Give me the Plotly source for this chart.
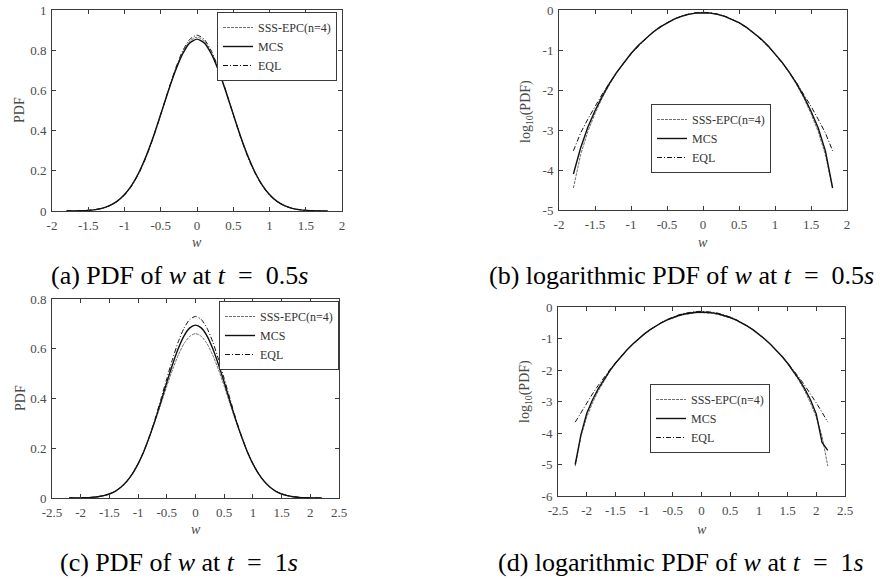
import plotly.graph_objects as go

# ---------------- data ----------------
w_05 = [-1.8, -1.7, -1.6, -1.5, -1.4, -1.3, -1.2, -1.1, -1.0, -0.9, -0.8, -0.7, -0.6, -0.5, -0.4, -0.3, -0.2, -0.1,
        0.0, 0.1, 0.2, 0.3, 0.4, 0.5, 0.6, 0.7, 0.8, 0.9, 1.0, 1.1, 1.2, 1.3, 1.4, 1.5, 1.6, 1.7, 1.8]

pdf05_sss = [0.00004, 0.0002, 0.0009, 0.0026, 0.0063, 0.014, 0.027, 0.048, 0.081, 0.128, 0.192, 0.274, 0.372, 0.482, 0.594, 0.700, 0.787, 0.845,
             0.865, 0.845, 0.787, 0.700, 0.594, 0.482, 0.372, 0.274, 0.192, 0.128, 0.081, 0.048, 0.027, 0.014, 0.0063, 0.0026, 0.0009, 0.0002, 0.00004]
pdf05_mcs = [0.0001, 0.0004, 0.0012, 0.003, 0.0069, 0.014, 0.028, 0.049, 0.082, 0.129, 0.193, 0.275, 0.372, 0.481, 0.592, 0.695, 0.780, 0.836,
             0.855, 0.836, 0.780, 0.695, 0.592, 0.481, 0.372, 0.275, 0.193, 0.129, 0.082, 0.049, 0.028, 0.014, 0.0069, 0.003, 0.0012, 0.0004, 0.0001]
pdf05_eql = [0.00036, 0.00084, 0.0019, 0.0039, 0.0079, 0.015, 0.027, 0.048, 0.079, 0.125, 0.188, 0.269, 0.368, 0.480, 0.596, 0.705, 0.795, 0.854,
             0.875, 0.854, 0.795, 0.705, 0.596, 0.480, 0.368, 0.269, 0.188, 0.125, 0.079, 0.048, 0.027, 0.015, 0.0079, 0.0039, 0.0019, 0.00084, 0.00036]

log05_sss = [-4.45, -3.62, -3.04, -2.59, -2.20, -1.865, -1.575, -1.32, -1.093, -0.893, -0.716, -0.562, -0.429, -0.317, -0.226, -0.155, -0.104, -0.073,
             -0.063, -0.073, -0.104, -0.155, -0.226, -0.317, -0.429, -0.562, -0.716, -0.893, -1.093, -1.32, -1.575, -1.865, -2.20, -2.59, -3.04, -3.62, -4.45]
log05_mcs = [-4.10, -3.45, -2.93, -2.52, -2.16, -1.84, -1.56, -1.31, -1.087, -0.889, -0.714, -0.561, -0.429, -0.318, -0.228, -0.158, -0.108, -0.078,
             -0.068, -0.078, -0.108, -0.158, -0.228, -0.318, -0.429, -0.561, -0.714, -0.889, -1.087, -1.31, -1.56, -1.84, -2.16, -2.53, -2.95, -3.52, -4.45]
log05_eql = [-3.52, -3.075, -2.731, -2.407, -2.104, -1.822, -1.561, -1.321, -1.102, -0.904, -0.726, -0.570, -0.434, -0.319, -0.225, -0.152, -0.100, -0.068,
             -0.058, -0.068, -0.100, -0.152, -0.225, -0.319, -0.434, -0.570, -0.726, -0.904, -1.102, -1.321, -1.561, -1.822, -2.104, -2.407, -2.731, -3.075, -3.52]

w_1 = [-2.2, -2.1, -2.0, -1.9, -1.8, -1.7, -1.6, -1.5, -1.4, -1.3, -1.2, -1.1, -1.0, -0.9, -0.8, -0.7, -0.6, -0.5, -0.4, -0.3, -0.2, -0.1,
       0.0, 0.1, 0.2, 0.3, 0.4, 0.5, 0.6, 0.7, 0.8, 0.9, 1.0, 1.1, 1.2, 1.3, 1.4, 1.5, 1.6, 1.7, 1.8, 1.9, 2.0, 2.1, 2.2]

pdf1_sss = [0.00001, 0.0001, 0.0003, 0.0009, 0.0021, 0.0046, 0.0089, 0.016, 0.027, 0.044, 0.067, 0.099, 0.139, 0.189, 0.247, 0.311, 0.380, 0.450, 0.516, 0.575, 0.621, 0.650,
            0.661, 0.650, 0.621, 0.575, 0.516, 0.450, 0.380, 0.311, 0.247, 0.189, 0.139, 0.099, 0.067, 0.044, 0.027, 0.016, 0.0089, 0.0046, 0.0021, 0.0009, 0.0003, 0.0001, 0.00001]
pdf1_mcs = [0.00001, 0.0001, 0.0004, 0.0011, 0.0025, 0.0050, 0.0093, 0.016, 0.027, 0.043, 0.066, 0.097, 0.137, 0.187, 0.248, 0.315, 0.389, 0.465, 0.537, 0.601, 0.652, 0.684,
            0.695, 0.684, 0.652, 0.601, 0.537, 0.465, 0.389, 0.315, 0.248, 0.187, 0.137, 0.097, 0.066, 0.043, 0.027, 0.016, 0.0093, 0.0050, 0.0025, 0.0011, 0.0004, 0.0001, 0.00003]
pdf1_eql = [0.0002, 0.0004, 0.0009, 0.0017, 0.0032, 0.0058, 0.0100, 0.0169, 0.0274, 0.0431, 0.0655, 0.0963, 0.137, 0.188, 0.250, 0.321, 0.400, 0.480, 0.558, 0.628, 0.683, 0.718,
            0.730, 0.718, 0.683, 0.628, 0.558, 0.480, 0.400, 0.321, 0.250, 0.188, 0.137, 0.0963, 0.0655, 0.0431, 0.0274, 0.0169, 0.0100, 0.0058, 0.0032, 0.0017, 0.0009, 0.0004, 0.0002]

log1_sss = [-5.05, -4.10, -3.50, -3.05, -2.67, -2.34, -2.05, -1.795, -1.565, -1.358, -1.172, -1.005, -0.856, -0.724, -0.608, -0.507, -0.420, -0.347, -0.287, -0.240, -0.207, -0.187,
            -0.180, -0.187, -0.207, -0.240, -0.287, -0.347, -0.420, -0.507, -0.608, -0.724, -0.856, -1.005, -1.172, -1.358, -1.565, -1.795, -2.05, -2.34, -2.67, -3.05, -3.50, -4.10, -5.05]
log1_mcs = [-5.0, -4.05, -3.38, -2.95, -2.60, -2.30, -2.03, -1.787, -1.566, -1.364, -1.180, -1.013, -0.862, -0.727, -0.606, -0.501, -0.410, -0.333, -0.270, -0.221, -0.186, -0.165,
            -0.158, -0.165, -0.186, -0.221, -0.270, -0.333, -0.410, -0.501, -0.606, -0.727, -0.862, -1.013, -1.180, -1.364, -1.566, -1.787, -2.03, -2.30, -2.60, -2.95, -3.40, -4.30, -4.55]
log1_eql = [-3.656, -3.343, -3.045, -2.761, -2.492, -2.238, -1.998, -1.773, -1.562, -1.366, -1.184, -1.017, -0.864, -0.726, -0.602, -0.493, -0.399, -0.319, -0.253, -0.202, -0.166, -0.144,
            -0.137, -0.144, -0.166, -0.202, -0.253, -0.319, -0.399, -0.493, -0.602, -0.726, -0.864, -1.017, -1.184, -1.366, -1.562, -1.773, -1.998, -2.238, -2.492, -2.761, -3.045, -3.343, -3.656]

series_names = ["SSS-EPC(n=4)", "MCS", "EQL"]

xt_2 = [-2, -1.5, -1, -0.5, 0, 0.5, 1, 1.5, 2]
xt_2_lbl = ["-2", "-1.5", "-1", "-0.5", "0", "0.5", "1", "1.5", "2"]
xt_25 = [-2.5, -2, -1.5, -1, -0.5, 0, 0.5, 1, 1.5, 2, 2.5]
xt_25_lbl = ["-2.5", "-2", "-1.5", "-1", "-0.5", "0", "0.5", "1", "1.5", "2", "2.5"]
yt_a = [0, 0.2, 0.4, 0.6, 0.8, 1]
yt_a_lbl = ["0", "0.2", "0.4", "0.6", "0.8", "1"]
yt_b = [-5, -4, -3, -2, -1, 0]
yt_b_lbl = ["-5", "-4", "-3", "-2", "-1", "0"]
yt_c = [0, 0.2, 0.4, 0.6, 0.8]
yt_c_lbl = ["0", "0.2", "0.4", "0.6", "0.8"]
yt_d = [-6, -5, -4, -3, -2, -1, 0]
yt_d_lbl = ["-6", "-5", "-4", "-3", "-2", "-1", "0"]

captions = [
    "(a) PDF of <i>w</i> at <i>t</i>&#8194;=&#8194;0.5<i>s</i>",
    "(b) logarithmic PDF of <i>w</i> at <i>t</i>&#8194;=&#8194;0.5<i>s</i>",
    "(c) PDF of <i>w</i> at <i>t</i>&#8194;=&#8194;1<i>s</i>",
    "(d) logarithmic PDF of <i>w</i> at <i>t</i>&#8194;=&#8194;1<i>s</i>",
]

# ---------------- figure ----------------
W, H = 885, 579
FONT = "Liberation Serif, Times New Roman, serif"
styles = [
    dict(color="#6e6e6e", width=1, dash="3px,1px"),
    dict(color="#111111", width=1.4, dash="solid"),
    dict(color="#111111", width=1, dash="5px,2px,1px,2px"),
]

fig = go.Figure()

panels = [
    ("x", "y", w_05, [pdf05_sss, pdf05_mcs, pdf05_eql], "legend", "spline"),
    ("x2", "y2", w_05, [log05_sss, log05_mcs, log05_eql], "legend2", "linear"),
    ("x3", "y3", w_1, [pdf1_sss, pdf1_mcs, pdf1_eql], "legend3", "spline"),
    ("x4", "y4", w_1, [log1_sss, log1_mcs, log1_eql], "legend4", "linear"),
]
for xa, ya, xs, ys_list, leg, shape in panels:
    for name, ys, st in zip(series_names, ys_list, styles):
        fig.add_trace(go.Scatter(
            x=xs, y=ys, mode="lines", name=name, xaxis=xa, yaxis=ya, legend=leg,
            line=dict(shape=shape, smoothing=0.6 if shape == "spline" else None, **st),
        ))


def px_x(p):
    return p / W


def px_y(p):
    return 1 - p / H


axcommon = dict(showline=True, linecolor="#3a3a3a", linewidth=1, mirror="ticks", ticks="inside",
                ticklen=4, tickcolor="#3a3a3a", showgrid=False, zeroline=False, automargin=False,
                tickfont=dict(family=FONT, size=13, color="#4a4a4a"), ticklabelstandoff=2)

boxes = {
    "a": (52, 342, 10, 211),
    "b": (559, 847, 10, 210),
    "c": (52, 339, 299, 498),
    "d": (558, 845, 307, 496),
}

fig.update_layout(
    template="none",
    width=W, height=H, margin=dict(l=0, r=0, t=0, b=0, pad=0, autoexpand=False),
    paper_bgcolor="white", plot_bgcolor="white", showlegend=True,
    xaxis=dict(domain=[px_x(boxes["a"][0]), px_x(boxes["a"][1])], range=[-2, 2], tickvals=xt_2, ticktext=xt_2_lbl, anchor="y", **axcommon),
    yaxis=dict(domain=[px_y(boxes["a"][3]), px_y(boxes["a"][2])], range=[0, 1], tickvals=yt_a, ticktext=yt_a_lbl, anchor="x", **axcommon),
    xaxis2=dict(domain=[px_x(boxes["b"][0]), px_x(boxes["b"][1])], range=[-2, 2], tickvals=xt_2, ticktext=xt_2_lbl, anchor="y2", **axcommon),
    yaxis2=dict(domain=[px_y(boxes["b"][3]), px_y(boxes["b"][2])], range=[-5, 0], tickvals=yt_b, ticktext=yt_b_lbl, anchor="x2", **axcommon),
    xaxis3=dict(domain=[px_x(boxes["c"][0]), px_x(boxes["c"][1])], range=[-2.5, 2.5], tickvals=xt_25, ticktext=xt_25_lbl, anchor="y3", **axcommon),
    yaxis3=dict(domain=[px_y(boxes["c"][3]), px_y(boxes["c"][2])], range=[0, 0.8], tickvals=yt_c, ticktext=yt_c_lbl, anchor="x3", **axcommon),
    xaxis4=dict(domain=[px_x(boxes["d"][0]), px_x(boxes["d"][1])], range=[-2.5, 2.5], tickvals=xt_25, ticktext=xt_25_lbl, anchor="y4", **axcommon),
    yaxis4=dict(domain=[px_y(boxes["d"][3]), px_y(boxes["d"][2])], range=[-6, 0], tickvals=yt_d, ticktext=yt_d_lbl, anchor="x4", **axcommon),
)

legpos = {"legend": (217, 12), "legend2": (651, 104), "legend3": (219, 301), "legend4": (650, 384)}
for key, (lx, ly) in legpos.items():
    fig.update_layout(**{key: dict(
        x=px_x(lx), y=px_y(ly), xref="paper", yref="paper", xanchor="left", yanchor="top",
        bgcolor="white", bordercolor="#3a3a3a", borderwidth=1,
        font=dict(family=FONT, size=12, color="#333333"), itemwidth=30, tracegroupgap=0,
    )})

ann = []
# x-axis titles
for cx, cy in [(197, 243), (703, 243), (196, 529), (702, 529)]:
    ann.append(dict(x=px_x(cx), y=px_y(cy), xref="paper", yref="paper", text="<i>w</i>", showarrow=False,
                    font=dict(family=FONT, size=14, color="#4a4a4a"), xanchor="center", yanchor="middle"))
# y-axis titles
for cx, cy, txt in [(20, 110, "PDF"), (527, 112, "log<sub>10</sub>(PDF)"), (20, 398, "PDF"), (525, 392, "log<sub>10</sub>(PDF)")]:
    ann.append(dict(x=px_x(cx), y=px_y(cy), xref="paper", yref="paper", text=txt, showarrow=False, textangle=-90,
                    font=dict(family=FONT, size=14, color="#4a4a4a"), xanchor="center", yanchor="middle"))
# captions
for (cx, cy), txt in zip([(179, 275), (681, 275), (179, 562), (681, 562)], captions):
    ann.append(dict(x=px_x(cx), y=px_y(cy), xref="paper", yref="paper", text=txt, showarrow=False,
                    font=dict(family=FONT, size=26, color="black"), xanchor="center", yanchor="middle"))
fig.update_layout(annotations=ann)

fig.write_html("out.html", config={"displayModeBar": False},
               post_script="document.body.style.margin='0';document.body.style.padding='0';")
